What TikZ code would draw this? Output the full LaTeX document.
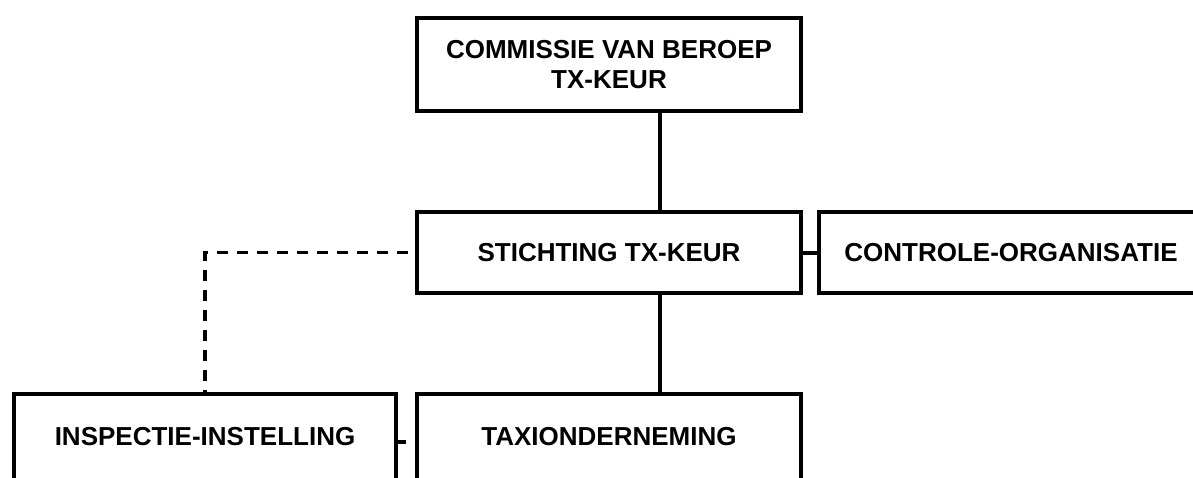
\documentclass[tikz,border=0pt]{standalone}
\usepackage{fontspec}
\setmainfont{Liberation Sans}
\usetikzlibrary{calc}
\tikzset{
    block/.style = {draw, rectangle, line width=2pt,
        font=\fontsize{13}{15}\selectfont\bfseries, align=center,
        minimum height=40.5pt,
        minimum width=192pt},
    link/.style = {draw, line width=2pt},
    dlink/.style = {draw, line width=1.6pt, dash pattern=on 5.5pt off 4.5pt}
}
\begin{document}
\begin{tikzpicture}[x=0.5pt,y=-0.5pt]
                \useasboundingbox (0,0) rectangle (1193,477);
                \node [block,minimum height=46.5pt] (commissie) at (609,64.5) {COMMISSIE VAN BEROEP\\TX-KEUR};
                \node [block] (stichting) at (609,252.5) {STICHTING TX-KEUR};
                \node [block] (controle) at (1011,252.5) {CONTROLE-ORGANISATIE};
                \node [block,anchor=north,minimum width=191pt,minimum height=43pt] (inspectie) at (205,392) {INSPECTIE-INSTELLING};
                \node [block,anchor=north,minimum height=43pt] (taxi) at (609,392) {TAXIONDERNEMING};
                \coordinate (trunk) at (660,0);
                \coordinate (stub) at (0,442);
         \draw[link] (commissie.south -| trunk) -- (stichting.north -| trunk);
         \draw[link] (stichting.south -| trunk) -- (taxi.north -| trunk);
         \draw[link] (stichting.east) -- (controle.west);
         \draw[link,shorten >=4.5pt] (inspectie.east |- stub) -- (taxi.west |- stub);
         \draw[dlink,shorten <=3.5pt] (stichting.west) -| (inspectie.north);
            \end{tikzpicture}
\end{document}
